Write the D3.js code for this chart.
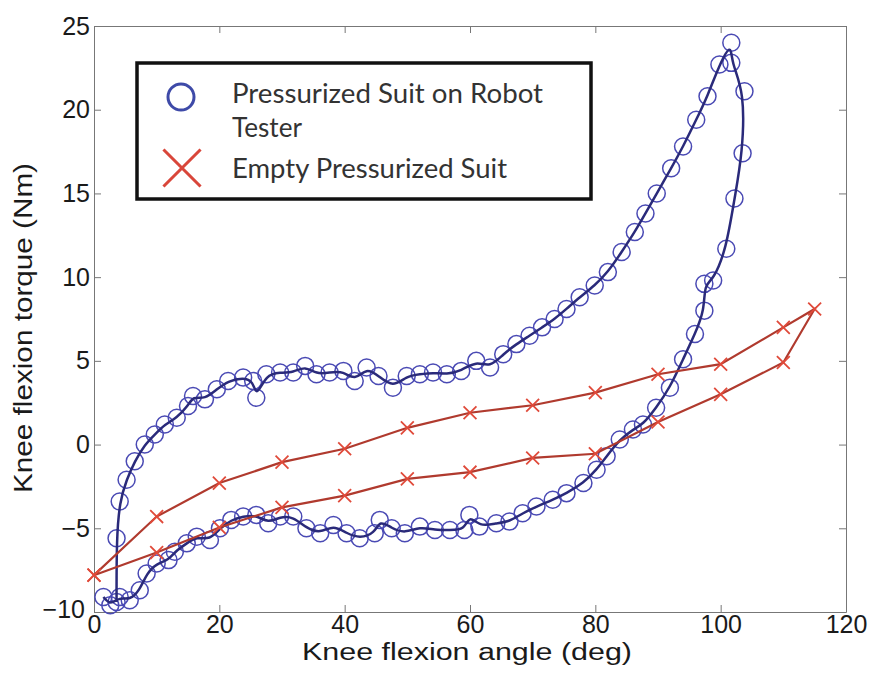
<!DOCTYPE html>
<html>
<head>
<meta charset="utf-8">
<script src="https://cdn.jsdelivr.net/npm/d3@7"></script>
<style>
  body { margin: 0; background: #fff; }
  svg { display: block; }
</style>
</head>
<body>
<div id="chart"></div>
<script>
// tick values
const xTicks = [0, 20, 40, 60, 80, 100, 120];
const yTicks = [-10, -5, 0, 5, 10, 15, 20, 25];

// suit on robot tester (blue loop)
const suitAngle = [
  3.6, 3.6, 4.1, 5.2, 6.5, 8.1, 9.7, 11.3, 13.2, 15.0, 15.8, 17.7, 19.6, 21.4, 23.8, 25.4, 25.9,
  27.5, 29.7, 31.8, 33.7, 35.5, 37.6, 39.8, 41.6, 43.5, 45.4, 47.7, 49.9, 52.0, 54.1, 56.3, 58.6,
  61.0, 63.2, 65.3, 67.4, 69.5, 71.5, 73.5, 75.4, 77.5, 79.9, 82.0, 84.2, 86.3, 88.0, 89.8, 92.1,
  94.0, 96.1, 97.9, 99.8, 101.7, 101.7, 103.8, 103.5, 102.2, 100.9, 98.8, 97.4, 97.4, 95.9, 94.0,
  91.9, 89.7, 87.6, 86.0, 83.9, 81.8, 80.2, 78.1, 75.4, 73.2, 70.6, 68.4, 66.3, 64.2, 61.5, 59.9,
  59.1, 56.8, 54.4, 52.0, 49.6, 47.5, 45.6, 44.8, 42.4, 40.3, 38.2, 36.1, 33.9, 31.8, 29.7, 27.8,
  25.9, 23.8, 21.9, 20.1, 18.5, 16.4, 14.8, 12.9, 11.9, 10.0, 8.4, 7.3, 5.7, 4.1, 2.6, 1.5
];
const suitTorque = [
  -9.4, -5.6, -3.4, -2.1, -1.0, 0.0, 0.6, 1.2, 1.6, 2.3, 2.9, 2.7, 3.3, 3.8, 4.0, 3.8, 2.8,
  4.2, 4.3, 4.3, 4.7, 4.2, 4.3, 4.4, 3.8, 4.6, 4.1, 3.4, 4.1, 4.2, 4.3, 4.2, 4.4,
  5.0, 4.6, 5.4, 6.0, 6.5, 7.0, 7.5, 8.1, 8.8, 9.5, 10.3, 11.5, 12.7, 13.8, 15.0, 16.5,
  17.8, 19.4, 20.8, 22.7, 24.0, 22.8, 21.1, 17.4, 14.7, 11.7, 9.8, 9.6, 8.0, 6.6, 5.1,
  3.4, 2.2, 1.2, 0.9, 0.3, -0.7, -1.5, -2.3, -2.9, -3.3, -3.7, -4.1, -4.6, -4.7, -4.9, -4.2,
  -5.1, -5.1, -5.1, -4.9, -5.3, -5.0, -4.5, -5.3, -5.6, -5.3, -4.8, -5.3, -5.0, -4.3, -4.3, -4.7,
  -4.2, -4.3, -4.5, -5.0, -5.7, -5.5, -5.9, -6.4, -6.9, -7.1, -7.7, -8.7, -9.3, -9.1, -9.6, -9.1
];

// empty pressurized suit (red loop)
const emptyAngle = [0, 10, 20, 30, 40, 50, 60, 70, 80, 90, 100, 110, 115, 110, 100, 90, 80, 70, 60, 50, 40, 30, 20, 10, 0];
const emptyTorque = [-7.8, -4.3, -2.3, -1.05, -0.25, 1.0, 1.9, 2.35, 3.1, 4.2, 4.8, 7.0, 8.1,
  4.9, 3.0, 1.35, -0.55, -0.8, -1.65, -2.05, -3.05, -3.75, -4.95, -6.45, -7.8];

const legendLabels = [["Pressurized Suit on Robot", "Tester"], ["Empty Pressurized Suit"]];
const xLabel = "Knee flexion angle (deg)";
const yLabel = "Knee flexion torque (Nm)";

const width = 873, height = 675;
const plotLeft = 94, plotRight = 846, plotTop = 26, plotBottom = 612;

const svg = d3.select("#chart").append("svg")
  .attr("width", width)
  .attr("height", height);

const x = d3.scaleLinear().domain([0, 120]).range([plotLeft, plotRight]);
const y = d3.scaleLinear().domain([-10, 25]).range([plotBottom, plotTop]);

const tickFont = "'Liberation Sans', Arial, Helvetica, sans-serif";

function styleAxis(g) {
  g.select(".domain").attr("stroke", "#777").attr("stroke-width", 1);
  g.selectAll(".tick line").attr("stroke", "#777").attr("stroke-width", 1);
  g.selectAll(".tick text").attr("fill", "#1a1a1a")
    .style("font-family", tickFont).style("font-size", "25px");
}

svg.append("g")
  .attr("transform", `translate(0,${plotBottom})`)
  .call(d3.axisBottom(x).tickValues(xTicks).tickSizeInner(-7).tickSizeOuter(0).tickPadding(3))
  .call(styleAxis);

svg.append("g")
  .attr("transform", `translate(0,${plotTop})`)
  .call(d3.axisTop(x).tickValues(xTicks).tickSizeInner(-7).tickSizeOuter(0).tickFormat(""))
  .call(styleAxis);

svg.append("g")
  .attr("transform", `translate(${plotLeft},0)`)
  .call(d3.axisLeft(y).tickValues(yTicks).tickSizeInner(-7).tickSizeOuter(0).tickPadding(4))
  .call(styleAxis)
  .call(g => g.selectAll(".tick text").filter(d => d === -10).attr("dx", -5).attr("dy", "0.2em"));

svg.append("g")
  .attr("transform", `translate(${plotRight},0)`)
  .call(d3.axisRight(y).tickValues(yTicks).tickSizeInner(-7).tickSizeOuter(0).tickFormat(""))
  .call(styleAxis);

// axis titles
svg.append("text")
  .attr("x", 467).attr("y", 660)
  .attr("text-anchor", "middle")
  .attr("textLength", 330).attr("lengthAdjust", "spacingAndGlyphs")
  .attr("fill", "#1a1a1a")
  .style("font-family", tickFont).style("font-size", "23px")
  .text(xLabel);

svg.append("text")
  .attr("transform", "translate(32,328) rotate(-90)")
  .attr("text-anchor", "middle")
  .attr("textLength", 330).attr("lengthAdjust", "spacingAndGlyphs")
  .attr("fill", "#1a1a1a")
  .style("font-family", tickFont).style("font-size", "26px")
  .text(yLabel);

// data
const suit = suitAngle.map((a, i) => ({ a: a, t: suitTorque[i] }));
const empty = emptyAngle.map((a, i) => ({ a: a, t: emptyTorque[i] }));

const plot = svg.append("g");

const smoothLine = d3.line().x(d => x(d.a)).y(d => y(d.t)).curve(d3.curveBasis);
const straightLine = d3.line().x(d => x(d.a)).y(d => y(d.t));

plot.selectAll("circle.suit")
  .data(suit)
  .join("circle")
  .attr("class", "suit")
  .attr("cx", d => x(d.a))
  .attr("cy", d => y(d.t))
  .attr("r", 8.5)
  .attr("fill", "none")
  .attr("stroke", "#4a4ab4")
  .attr("stroke-width", 1.5);

plot.append("path")
  .datum(suit)
  .attr("fill", "none")
  .attr("stroke", "#2a2a7a")
  .attr("stroke-width", 2.5)
  .attr("d", smoothLine);

plot.append("path")
  .datum(empty)
  .attr("fill", "none")
  .attr("stroke", "#b03a2e")
  .attr("stroke-width", 2.2)
  .attr("d", straightLine);

const cross = d3.symbol().type(d3.symbolX).size(110);
plot.selectAll("path.empty")
  .data(empty)
  .join("path")
  .attr("class", "empty")
  .attr("transform", d => `translate(${x(d.a)},${y(d.t)})`)
  .attr("d", cross)
  .attr("fill", "none")
  .attr("stroke", "#e04a3a")
  .attr("stroke-width", 1.8);

// legend
const legend = svg.append("g");
legend.append("rect")
  .attr("x", 137).attr("y", 63)
  .attr("width", 454).attr("height", 136)
  .attr("fill", "#fff")
  .attr("stroke", "#111")
  .attr("stroke-width", 3.5);

legend.append("circle")
  .attr("cx", 181).attr("cy", 97).attr("r", 13)
  .attr("fill", "none").attr("stroke", "#3e4aa8").attr("stroke-width", 3);

legend.append("path")
  .attr("transform", "translate(182,168)")
  .attr("d", d3.symbol().type(d3.symbolX).size(900)())
  .attr("fill", "none").attr("stroke", "#d9463a").attr("stroke-width", 3);

const legendFont = "Lato, 'Open Sans', sans-serif";
const legendRows = [
  { text: legendLabels[0][0], y: 103, len: 311 },
  { text: legendLabels[0][1], y: 137, len: 70 },
  { text: legendLabels[1][0], y: 178, len: 275 }
];
legend.selectAll("text")
  .data(legendRows)
  .join("text")
  .attr("x", 232)
  .attr("y", d => d.y)
  .attr("textLength", d => d.len)
  .attr("lengthAdjust", "spacingAndGlyphs")
  .attr("fill", "#333")
  .style("font-family", legendFont)
  .style("font-size", "27px")
  .text(d => d.text);
</script>
</body>
</html>
